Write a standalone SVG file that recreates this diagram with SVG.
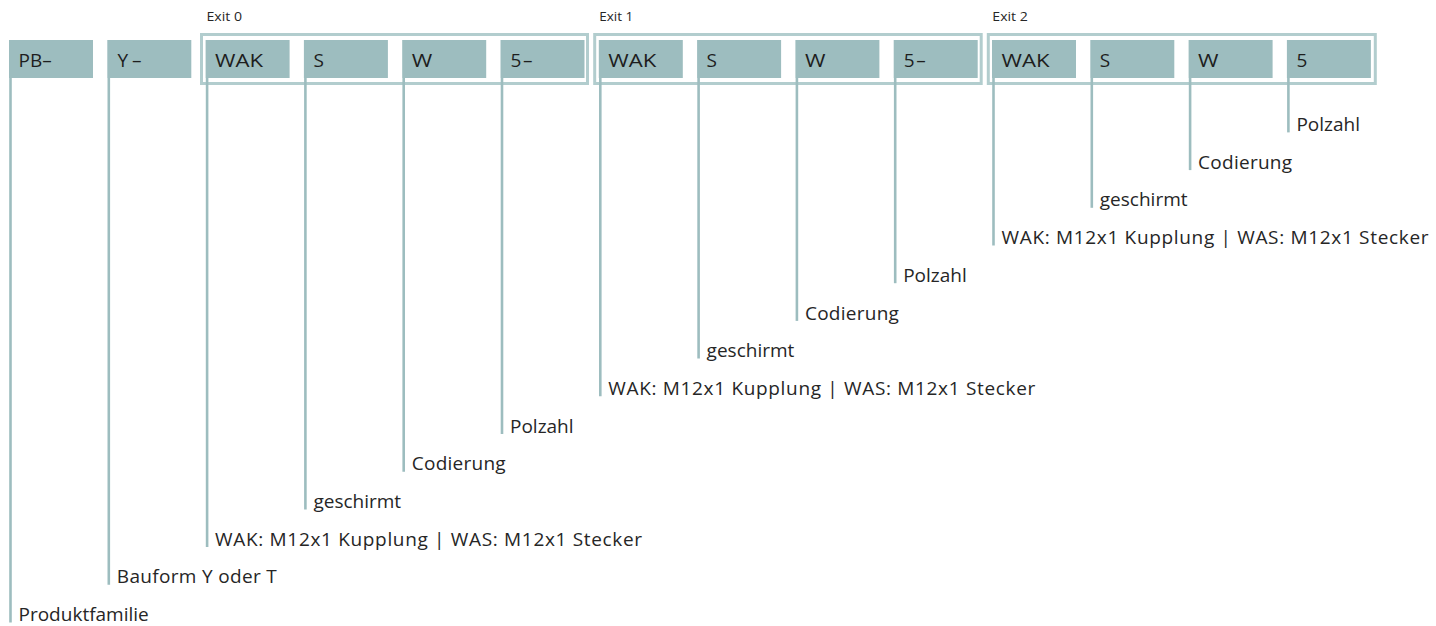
<svg xmlns="http://www.w3.org/2000/svg" width="1436" height="626" viewBox="0 0 1436 626">
<style>
.box{fill:#9dbdbf}
.bt{font-family:"Open Sans","Noto Sans","Liberation Sans",sans-serif;font-size:19px;fill:#1e1e1e}
.lt{font-family:"Open Sans","Noto Sans","Liberation Sans",sans-serif;font-size:19px;fill:#262626}
.et{font-family:"Open Sans","Noto Sans","Liberation Sans",sans-serif;font-size:13.5px;fill:#262626}
.frame{fill:none;stroke:#b2cdce;stroke-width:3}
.ln{stroke:#9dbdbf;stroke-width:2.6;fill:none}
</style>
<rect width="1436" height="626" fill="#ffffff"/>
<g id="frames">
<g id="exit0"><rect class="frame" x="201.5" y="34.5" width="386" height="49"/><text class="et" x="206.5" y="21" textLength="35.5" lengthAdjust="spacingAndGlyphs">Exit 0</text></g>
<g id="exit1"><rect class="frame" x="594.7" y="34.5" width="386.5" height="49"/><text class="et" x="599.3" y="21" textLength="34" lengthAdjust="spacingAndGlyphs">Exit 1</text></g>
<g id="exit2"><rect class="frame" x="988.3" y="34.5" width="387" height="49"/><text class="et" x="992.3" y="21" textLength="35.5" lengthAdjust="spacingAndGlyphs">Exit 2</text></g>
</g>
<g id="connectors">
<line class="ln" x1="10.5" y1="78" x2="10.5" y2="622.5"/>
<line class="ln" x1="108.8" y1="78" x2="108.8" y2="584.8"/>
<line class="ln" x1="207.1" y1="78" x2="207.1" y2="547.1"/>
<line class="ln" x1="305.4" y1="78" x2="305.4" y2="509.4"/>
<line class="ln" x1="403.7" y1="78" x2="403.7" y2="471.7"/>
<line class="ln" x1="502" y1="78" x2="502" y2="434"/>
<line class="ln" x1="600.3" y1="78" x2="600.3" y2="396.3"/>
<line class="ln" x1="698.6" y1="78" x2="698.6" y2="358.6"/>
<line class="ln" x1="796.9" y1="78" x2="796.9" y2="320.9"/>
<line class="ln" x1="895.2" y1="78" x2="895.2" y2="283.2"/>
<line class="ln" x1="993.5" y1="78" x2="993.5" y2="245.5"/>
<line class="ln" x1="1091.8" y1="78" x2="1091.8" y2="207.8"/>
<line class="ln" x1="1190.1" y1="78" x2="1190.1" y2="170.1"/>
<line class="ln" x1="1288.4" y1="78" x2="1288.4" y2="132.4"/>
</g>
<g id="n0"><rect class="box" x="9" y="40" width="84" height="38"/><text class="bt" x="18.5" y="67">PB–</text></g>
<g id="n1"><rect class="box" x="107.3" y="40" width="84" height="38"/><text class="bt" x="117.5" y="67" textLength="24">Y–</text></g>
<g id="n2"><rect class="box" x="205.6" y="40" width="84" height="38"/><text class="bt" x="215.1" y="67" textLength="48" lengthAdjust="spacingAndGlyphs">WAK</text></g>
<g id="n3"><rect class="box" x="303.9" y="40" width="84" height="38"/><text class="bt" x="313.4" y="67">S</text></g>
<g id="n4"><rect class="box" x="402.2" y="40" width="84" height="38"/><text class="bt" x="411.7" y="67" textLength="20.5" lengthAdjust="spacingAndGlyphs">W</text></g>
<g id="n5"><rect class="box" x="500.5" y="40" width="84" height="38"/><text class="bt" x="510.5" y="67" textLength="22">5–</text></g>
<g id="n6"><rect class="box" x="598.8" y="40" width="84" height="38"/><text class="bt" x="608.3" y="67" textLength="48" lengthAdjust="spacingAndGlyphs">WAK</text></g>
<g id="n7"><rect class="box" x="697.1" y="40" width="84" height="38"/><text class="bt" x="706.6" y="67">S</text></g>
<g id="n8"><rect class="box" x="795.4" y="40" width="84" height="38"/><text class="bt" x="804.9" y="67" textLength="20.5" lengthAdjust="spacingAndGlyphs">W</text></g>
<g id="n9"><rect class="box" x="893.7" y="40" width="84" height="38"/><text class="bt" x="903.7" y="67" textLength="22">5–</text></g>
<g id="n10"><rect class="box" x="992" y="40" width="84" height="38"/><text class="bt" x="1001.5" y="67" textLength="48" lengthAdjust="spacingAndGlyphs">WAK</text></g>
<g id="n11"><rect class="box" x="1090.3" y="40" width="84" height="38"/><text class="bt" x="1099.8" y="67">S</text></g>
<g id="n12"><rect class="box" x="1188.6" y="40" width="84" height="38"/><text class="bt" x="1198.1" y="67" textLength="20.5" lengthAdjust="spacingAndGlyphs">W</text></g>
<g id="n13"><rect class="box" x="1286.9" y="40" width="84" height="38"/><text class="bt" x="1296.4" y="67">5</text></g>
<g id="labels">
<g id="l0"><text class="lt" x="18.5" y="621.1">Produktfamilie</text></g>
<g id="l1"><text class="lt" x="116.8" y="583.4" textLength="160">Bauform Y oder T</text></g>
<g id="l2"><text class="lt" x="215.1" y="545.7" textLength="427">WAK: M12x1 Kupplung | WAS: M12x1 Stecker</text></g>
<g id="l3"><text class="lt" x="313.4" y="508">geschirmt</text></g>
<g id="l4"><text class="lt" x="411.7" y="470.3" textLength="94">Codierung</text></g>
<g id="l5"><text class="lt" x="510" y="432.6">Polzahl</text></g>
<g id="l6"><text class="lt" x="608.3" y="394.9" textLength="427">WAK: M12x1 Kupplung | WAS: M12x1 Stecker</text></g>
<g id="l7"><text class="lt" x="706.6" y="357.2">geschirmt</text></g>
<g id="l8"><text class="lt" x="804.9" y="319.5" textLength="94">Codierung</text></g>
<g id="l9"><text class="lt" x="903.2" y="281.8">Polzahl</text></g>
<g id="l10"><text class="lt" x="1001.5" y="244.1" textLength="427">WAK: M12x1 Kupplung | WAS: M12x1 Stecker</text></g>
<g id="l11"><text class="lt" x="1099.8" y="206.4">geschirmt</text></g>
<g id="l12"><text class="lt" x="1198.1" y="168.7" textLength="94">Codierung</text></g>
<g id="l13"><text class="lt" x="1296.4" y="131">Polzahl</text></g>
</g>
</svg>
